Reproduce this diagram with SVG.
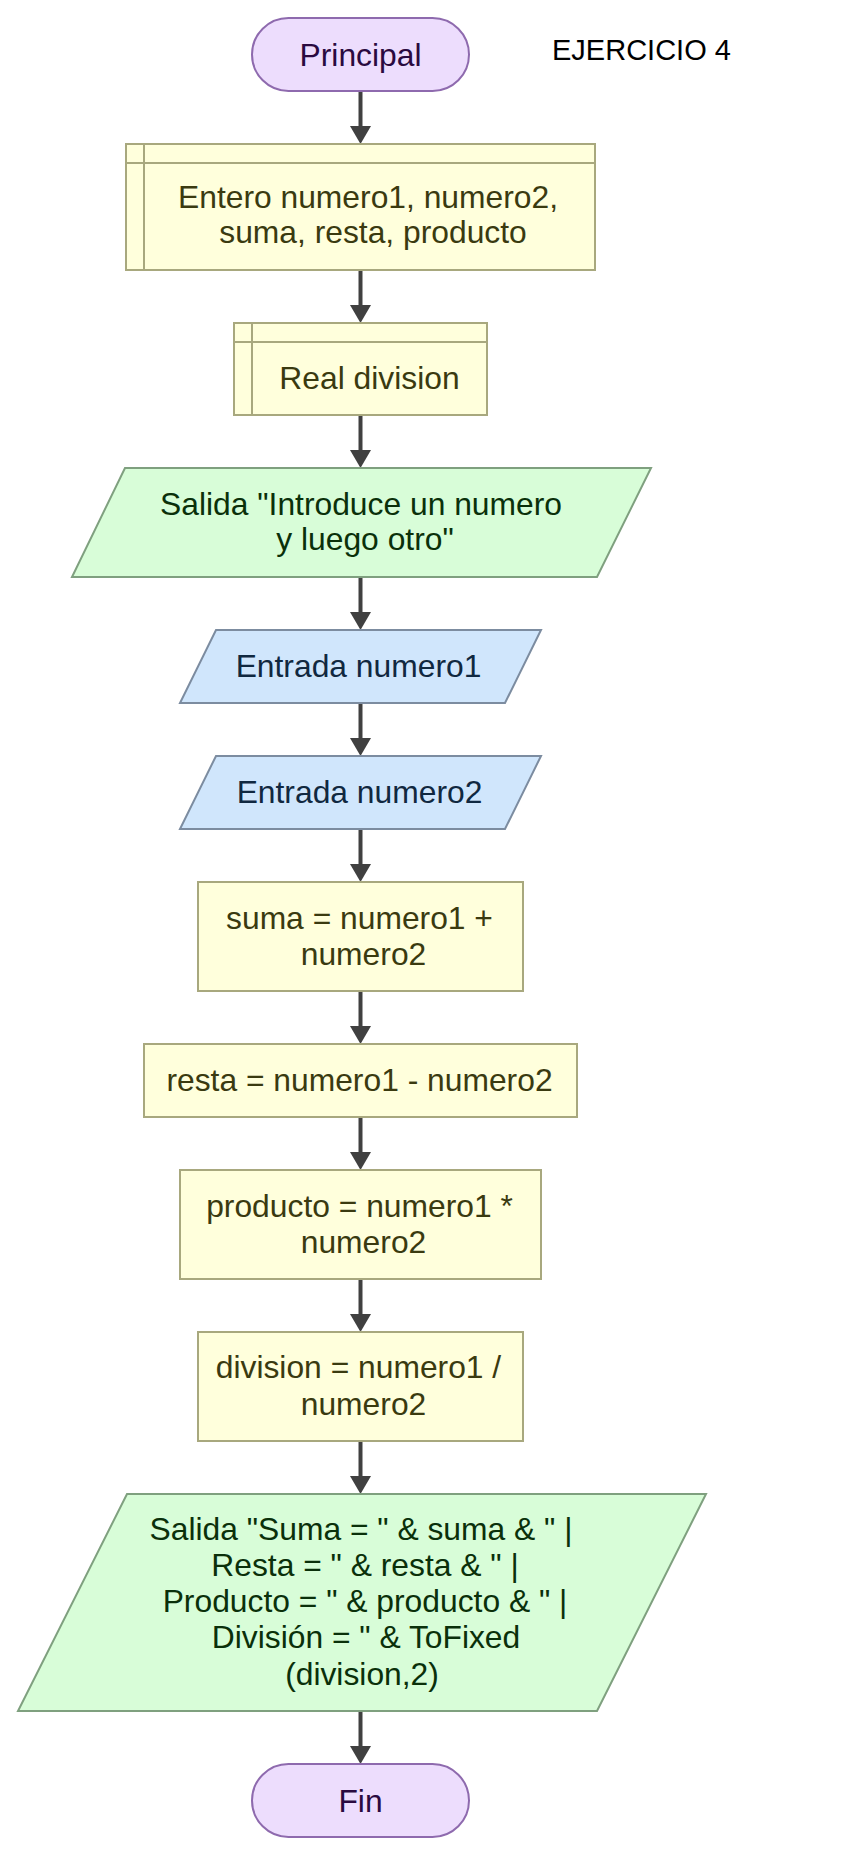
<svg xmlns="http://www.w3.org/2000/svg" width="855" height="1855" viewBox="0 0 855 1855">
<style>
text{font-family:"Liberation Sans",Arial,sans-serif;font-size:31.8px;text-anchor:middle}
.term{fill:#EDDDFD;stroke:#8E6AAE;stroke-width:2}
.term-t{fill:#2A0A40}
.proc{fill:#FFFFDC;stroke:#A8A87E;stroke-width:2}
.proc-t{fill:#3A3A10}
.out{fill:#D8FDD8;stroke:#7FA07F;stroke-width:2}
.out-t{fill:#0A300A}
.in{fill:#D0E6FC;stroke:#7C8CA0;stroke-width:2}
.in-t{fill:#102840}
.edge{stroke:#404040;stroke-width:4;fill:none}
</style>
<defs>
<marker id="arrow" viewBox="0 0 18 21" refX="0" refY="10.5" markerUnits="userSpaceOnUse" markerWidth="18" markerHeight="21" orient="auto">
<path d="M0,0 L18,10.5 L0,21 Z" fill="#404040"/>
</marker>
</defs>
<rect width="855" height="1855" fill="#FFFFFF"/>
<g id="connectors">
<line class="edge" x1="360.5" y1="91" x2="360.5" y2="126" marker-end="url(#arrow)"/>
<line class="edge" x1="360.5" y1="270" x2="360.5" y2="305" marker-end="url(#arrow)"/>
<line class="edge" x1="360.5" y1="415" x2="360.5" y2="450" marker-end="url(#arrow)"/>
<line class="edge" x1="360.5" y1="577" x2="360.5" y2="612" marker-end="url(#arrow)"/>
<line class="edge" x1="360.5" y1="703" x2="360.5" y2="738" marker-end="url(#arrow)"/>
<line class="edge" x1="360.5" y1="829" x2="360.5" y2="864" marker-end="url(#arrow)"/>
<line class="edge" x1="360.5" y1="991" x2="360.5" y2="1026" marker-end="url(#arrow)"/>
<line class="edge" x1="360.5" y1="1117" x2="360.5" y2="1152" marker-end="url(#arrow)"/>
<line class="edge" x1="360.5" y1="1279" x2="360.5" y2="1314" marker-end="url(#arrow)"/>
<line class="edge" x1="360.5" y1="1441" x2="360.5" y2="1476" marker-end="url(#arrow)"/>
<line class="edge" x1="360.5" y1="1711" x2="360.5" y2="1746" marker-end="url(#arrow)"/>
</g>
<g id="title">
<text x="552" y="60" style="text-anchor:start;font-size:29px" fill="#000000">EJERCICIO 4</text>
</g>
<g id="principal">
<rect class="term" x="252" y="18" width="217" height="73" rx="36.5" ry="36.5"/>
<text class="term-t" x="360.5" y="65.5">Principal</text>
</g>
<g id="decl-entero">
<rect class="proc" x="126" y="144" width="469" height="126"/>
<line class="proc" x1="144" y1="144" x2="144" y2="270"/>
<line class="proc" x1="126" y1="163" x2="595" y2="163"/>
<text class="proc-t" x="368" y="208">Entero numero1, numero2,</text>
<text class="proc-t" x="373" y="243">suma, resta, producto</text>
</g>
<g id="decl-real">
<rect class="proc" x="234" y="323" width="253" height="92"/>
<line class="proc" x1="252" y1="323" x2="252" y2="415"/>
<line class="proc" x1="234" y1="342" x2="487" y2="342"/>
<text class="proc-t" x="369.5" y="389">Real division</text>
</g>
<g id="salida1">
<polygon class="out" points="125,468 651,468 597,577 72,577"/>
<text class="out-t" x="361" y="515">Salida "Introduce un numero</text>
<text class="out-t" x="365" y="550">y luego otro"</text>
</g>
<g id="entrada1">
<polygon class="in" points="216,630 541,630 505,703 180,703"/>
<text class="in-t" x="358.5" y="677">Entrada numero1</text>
</g>
<g id="entrada2">
<polygon class="in" points="216,756 541,756 505,829 180,829"/>
<text class="in-t" x="359.5" y="803">Entrada numero2</text>
</g>
<g id="suma">
<rect class="proc" x="198" y="882" width="325" height="109"/>
<text class="proc-t" x="359.5" y="928.5">suma = numero1 +</text>
<text class="proc-t" x="363.5" y="965">numero2</text>
</g>
<g id="resta">
<rect class="proc" x="144" y="1044" width="433" height="73"/>
<text class="proc-t" x="359.5" y="1091">resta = numero1 - numero2</text>
</g>
<g id="producto">
<rect class="proc" x="180" y="1170" width="361" height="109"/>
<text class="proc-t" x="359.5" y="1217">producto = numero1 *</text>
<text class="proc-t" x="363.5" y="1253">numero2</text>
</g>
<g id="division">
<rect class="proc" x="198" y="1332" width="325" height="109"/>
<text class="proc-t" x="358.5" y="1378">division = numero1 /</text>
<text class="proc-t" x="363.5" y="1415">numero2</text>
</g>
<g id="salida2">
<polygon class="out" points="127,1494 706,1494 597,1711 18,1711"/>
<text class="out-t" x="361" y="1540">Salida "Suma = " &amp; suma &amp; " |</text>
<text class="out-t" x="365" y="1576">Resta = " &amp; resta &amp; " |</text>
<text class="out-t" x="365" y="1612">Producto = " &amp; producto &amp; " |</text>
<text class="out-t" x="366" y="1648">División = " &amp; ToFixed</text>
<text class="out-t" x="362" y="1685">(division,2)</text>
</g>
<g id="fin">
<rect class="term" x="252" y="1764" width="217" height="73" rx="36.5" ry="36.5"/>
<text class="term-t" x="360.5" y="1811.5">Fin</text>
</g>
</svg>
